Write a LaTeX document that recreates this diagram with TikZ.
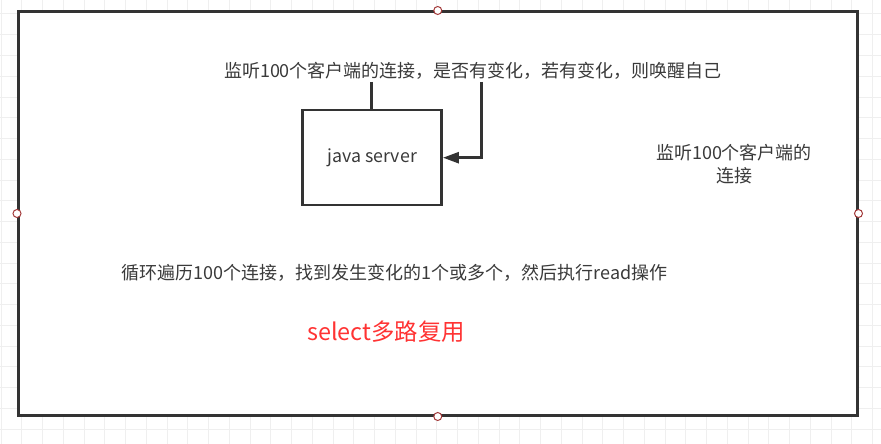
\documentclass[tikz,border=0pt]{standalone}
\usepackage{fontspec}
\setmainfont{Noto Sans CJK SC}
\usetikzlibrary{arrows.meta}
\definecolor{ink}{HTML}{333333}
\definecolor{textc}{HTML}{3A3A3A}
\definecolor{gridc}{HTML}{EFEFEF}
\definecolor{handle}{HTML}{A33A3A}
\definecolor{redtext}{HTML}{FF3333}
\tikzset{
  gridline/.style={draw=gridc, line width=1pt},
  frame/.style={draw=ink, line width=3pt, fill=white, inner sep=0pt, minimum width=838.5pt, minimum height=403pt},
  serverbox/.style={draw=ink, line width=2.5pt, fill=white, inner sep=0pt, minimum width=139pt, minimum height=95pt, font=\fontsize{17.8pt}{21pt}\selectfont, text=textc},
  label/.style={inner sep=0pt, font=\fontsize{18pt}{23.3pt}\selectfont, text=textc, align=center},
  redlabel/.style={inner sep=0pt, font=\fontsize{23.4pt}{27pt}\selectfont, text=redtext},
  handledot/.style={circle, draw=handle, line width=1pt, fill=white, inner sep=0pt, minimum size=8pt},
  conn/.style={draw=ink, line width=2.5pt},
  arrowconn/.style={conn, -{Triangle[length=16pt,width=11pt]}}
}
\begin{document}
\begin{tikzpicture}[x=1pt, y=-1pt]
\useasboundingbox (0,0) rectangle (881,444);
\fill[white] (0,0) rectangle (881,444);
\foreach \i in {0,...,42} {\draw[gridline] (1+\i*20.75,0) -- (1+\i*20.75,444);}
\foreach \j in {0,...,20} {\draw[gridline] (0,14+\j*20.75) -- (881,14+\j*20.75);}
\node[frame] (outer) at (437.75,213.5) {};
\node[serverbox] (server) at (372.2,157.7) {java server};
\node[label] (toptext) at (473,71) {监听100个客户端的连接，是否有变化，若有变化，则唤醒自己};
\node[label] (righttext) at (734,164.3) {监听100个客户端的\\连接};
\node[label] (bottomtext) at (394.5,273) {循环遍历100个连接，找到发生变化的1个或多个，然后执行read操作};
\node[redlabel] (title) at (386,332) {select多路复用};
\coordinate (c1) at (371.7,82);
\coordinate (c2) at (481.7,82);
\draw[conn] (c1) -- (c1 |- server.north);
\draw[arrowconn] (c2) |- (server.east);
\node[handledot] (hn) at (outer.north) {};
\node[handledot] (hs) at (outer.south) {};
\node[handledot] (hw) at (outer.west) {};
\node[handledot] (he) at (outer.east) {};
\end{tikzpicture}
\end{document}
